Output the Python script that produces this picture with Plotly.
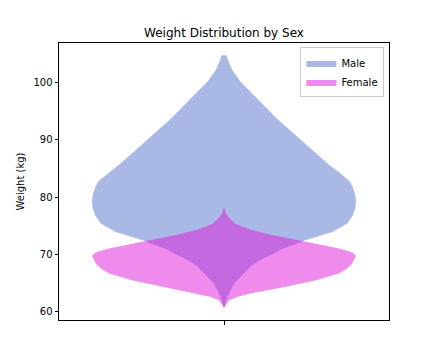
import plotly.graph_objects as go

# ---- data (weight level -> relative density / violin half-width) ----
male_weight = [60.85, 61.7, 63.2, 64.9, 66.7, 68.0, 69.0, 69.9, 71.0, 72.5, 73.9, 75.4, 76.8,
               78.0, 79.5, 80.8, 82.0, 82.8, 84.1, 85.6, 87.6, 89.6, 91.7, 93.7, 96.0, 98.4,
               100.1, 102.1, 103.5, 104.2, 104.65]
male_density = [0.005, 0.012, 0.037, 0.075, 0.15, 0.205, 0.273, 0.347, 0.448, 0.622, 0.821, 0.935,
                0.975, 0.995, 1.0, 0.99, 0.97, 0.95, 0.883, 0.796, 0.696, 0.597, 0.497, 0.398,
                0.299, 0.199, 0.124, 0.062, 0.035, 0.025, 0.02]

female_weight = [60.85, 62.0, 62.6, 63.2, 64.3, 65.5, 66.7, 67.55, 68.4, 69.55, 69.8, 70.4,
                 71.0, 71.5, 72.3, 73.0, 73.6, 74.4, 75.3, 76.3, 77.2, 78.1]
female_density = [0.005, 0.037, 0.099, 0.199, 0.448, 0.696, 0.870, 0.933, 0.970, 0.995, 1.0,
                  0.970, 0.88, 0.77, 0.60, 0.45, 0.32, 0.19, 0.09, 0.04, 0.013, 0.004]

series_names = ["Male", "Female"]
y_ticks = [60, 70, 80, 90, 100]

HALF_WIDTH = 0.4  # max half-width of each violin in category units


def outline(weights, dens):
    xs = [HALF_WIDTH * d for d in dens] + [-HALF_WIDTH * d for d in reversed(dens)]
    ys = list(weights) + list(reversed(weights))
    return xs + [xs[0]], ys + [ys[0]]


fig = go.Figure()
for name, w, d, col in [
    (series_names[0], male_weight, male_density, "rgba(85,113,205,0.5)"),
    (series_names[1], female_weight, female_density, "rgba(221,23,217,0.5)"),
]:
    xs, ys = outline(w, d)
    fig.add_trace(go.Scatter(
        x=xs, y=ys, mode="lines", fill="toself", fillcolor=col,
        line=dict(width=0, color="rgba(0,0,0,0)"), name=name, hoverinfo="skip"))

# page body adds an 8px offset, so the figure is drawn 8px smaller with shifted margins
fig.update_layout(
    width=424, height=352,
    margin=dict(l=46, r=43, t=35, b=40),
    paper_bgcolor="white", plot_bgcolor="white",
    font=dict(family="DejaVu Sans", size=10, color="black"),
    title=dict(text="Weight Distribution by Sex", x=0.5, xref="paper", xanchor="center",
               y=1 - 25 / 352, yref="container", yanchor="middle",
               font=dict(size=12, color="black")),
    showlegend=True,
    legend=dict(x=0.986, y=0.984, xanchor="right", yanchor="top",
                bgcolor="rgba(255,255,255,0.8)", bordercolor="#cccccc", borderwidth=1,
                font=dict(size=10), itemwidth=30, tracegroupgap=0),
)
fig.update_xaxes(range=[-0.5, 0.5], tickvals=[0], ticktext=[""], ticks="outside",
                 ticklen=3.5, tickcolor="black", showline=True, linecolor="black",
                 linewidth=1, mirror=True, showgrid=False, zeroline=False, fixedrange=True)
fig.update_yaxes(range=[58.6, 106.8], tickvals=y_ticks, ticks="outside", ticklen=3.5,
                 tickcolor="black", showline=True, linecolor="black", linewidth=1,
                 mirror=True, showgrid=False, zeroline=False,
                 title=dict(text="Weight (kg)", standoff=6, font=dict(size=10)))

fig.write_html("out.html")
